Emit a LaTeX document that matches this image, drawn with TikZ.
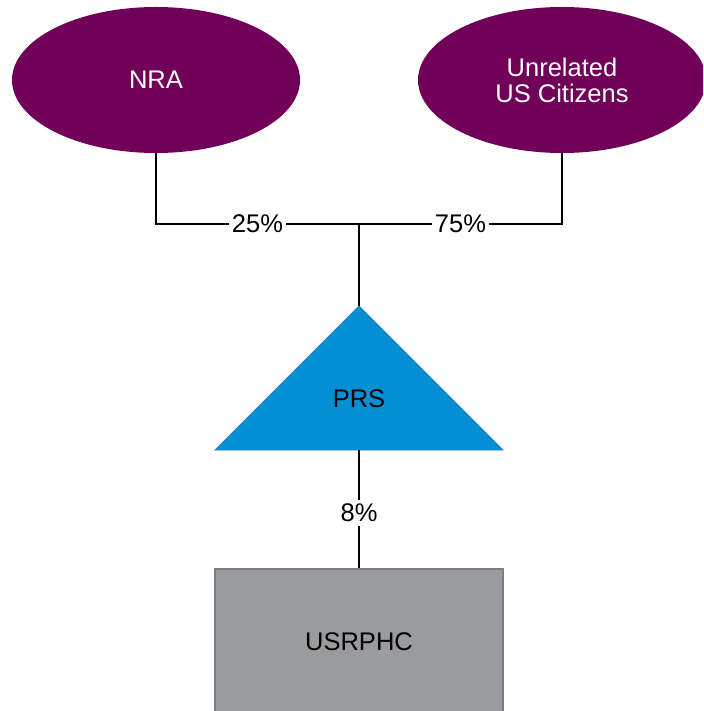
\documentclass[tikz,border=0pt]{standalone}
\usepackage{fontspec}
\setmainfont{Liberation Sans}
\usetikzlibrary{shapes.geometric}
\definecolor{owner}{RGB}{112,0,88}
\definecolor{prsblue}{RGB}{5,144,214}
\definecolor{prsedge}{RGB}{45,128,185}
\definecolor{boxgray}{RGB}{154,155,157}
\definecolor{boxedge}{RGB}{125,125,127}
\tikzset{
  x=1pt, y=-1pt,
  every node/.style={font=\fontsize{25.5}{26}\selectfont},
  holder/.style={ellipse, fill=owner, text=white, inner sep=0pt,
                 minimum width=288pt, minimum height=146pt, align=center},
  conn/.style={draw=black, line width=2pt},
  pct/.style={fill=white, inner xsep=3pt, inner ysep=1pt, text=black},
  company/.style={rectangle, fill=boxgray, draw=boxedge, line width=1.2pt,
                  minimum width=288pt, minimum height=146pt, inner sep=0pt}
}
\begin{document}
\begin{tikzpicture}
\useasboundingbox (0,0) rectangle (703,711);
\clip (0,0) rectangle (703,711);

% shareholders
\node[holder] (nra) at (156,80) {NRA};
\node[holder] (us) at (562,80) {Unrelated\\US Citizens};

% partnership triangle
\coordinate (apex) at (359,306);
\coordinate (baseL) at (215,450);
\coordinate (baseR) at (503,450);
\coordinate (prsbase) at (359,450);
\fill[prsblue] (apex) -- (baseR) -- (baseL) -- cycle;
\draw[prsedge, line width=0.8pt, line join=miter] (apex) -- (baseR) -- (baseL) -- cycle;
\node (prs) at (359,399) {PRS};

% corporation
\node[company] (usrphc) at (359,642) {USRPHC};

% ownership lines
\coordinate (J) at (359,224);
\draw[conn] (nra.south) |- node[pct, pos=0.75] {25\%} (J);
\draw[conn] (us.south) |- node[pct, pos=0.75] {75\%} (J);
\draw[conn] (J) -- (apex);
\draw[conn] (prsbase) -- node[pct, inner ysep=4pt, pos=0.53] {8\%} (usrphc.north);
\end{tikzpicture}
\end{document}
